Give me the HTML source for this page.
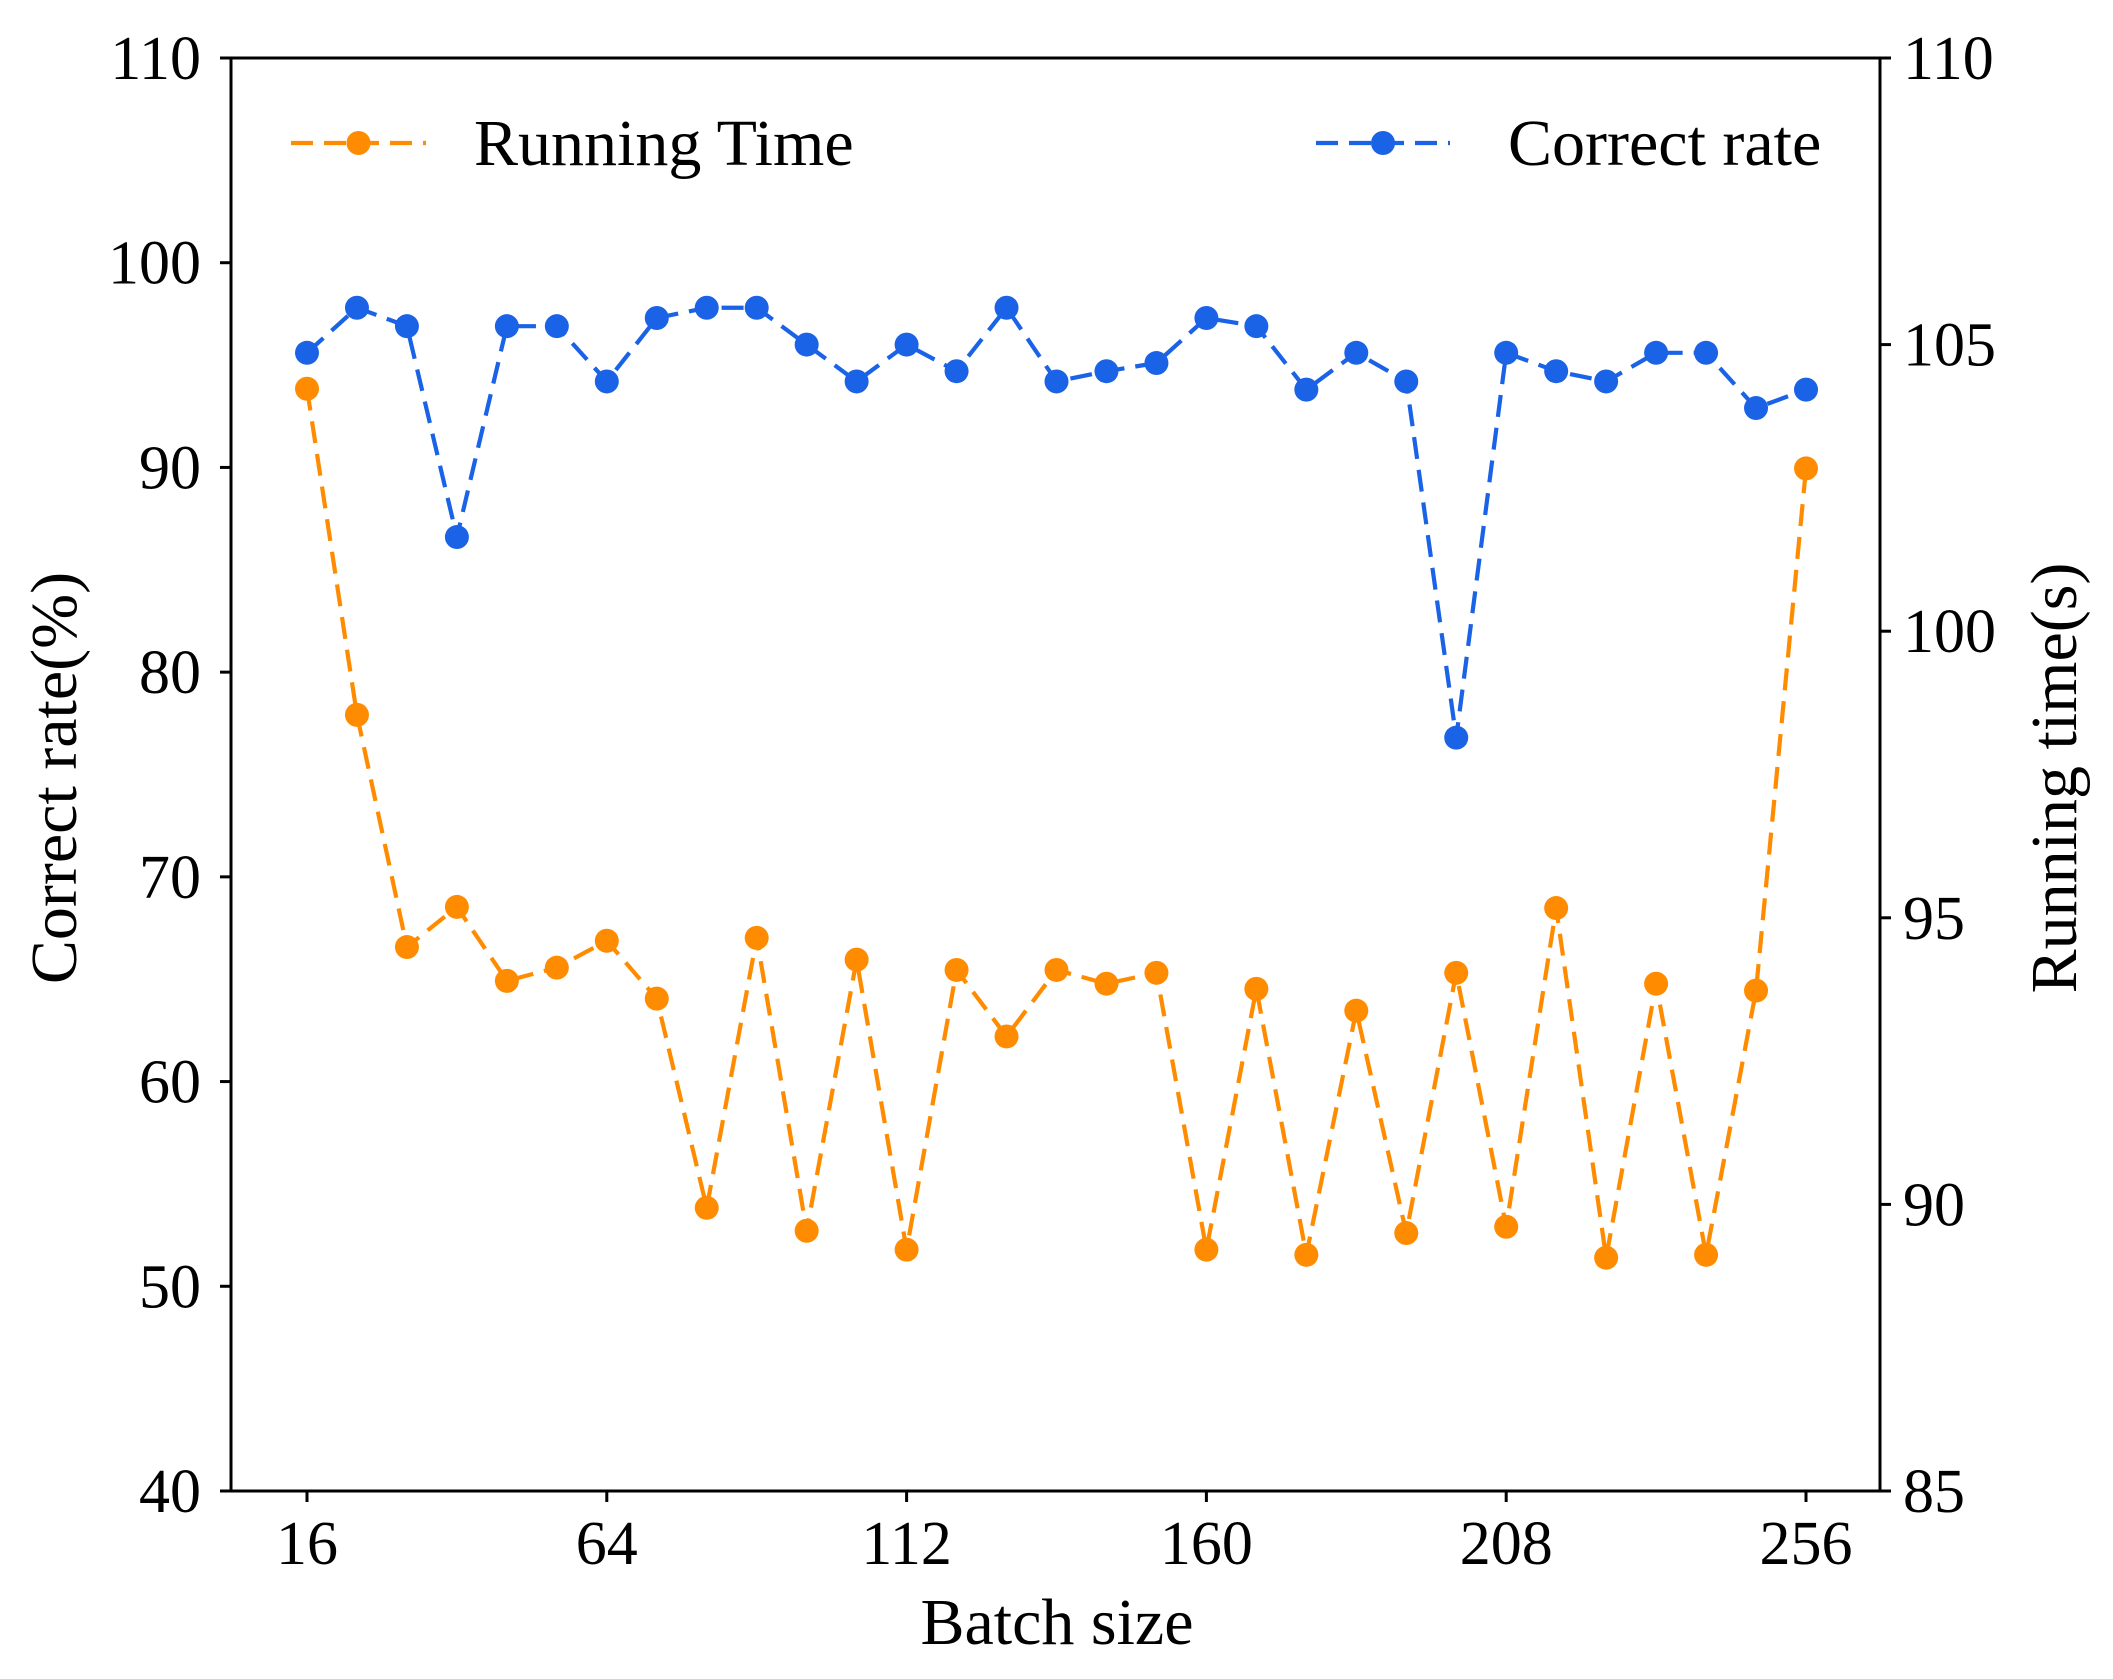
<!DOCTYPE html>
<html><head><meta charset="utf-8"><style>
html,body{margin:0;padding:0;background:#fff;}
svg{display:block;font-family:"Liberation Serif",serif;}
</style></head><body>
<svg id="chart" width="2113" height="1679" viewBox="0 0 2113 1679"></svg>
<script>
const batchSizes=[16,24,32,40,48,56,64,72,80,88,96,104,112,120,128,136,144,152,160,168,176,184,192,200,208,216,224,232,240,248,256];
const correctRate=[95.6,97.8,96.9,86.6,96.9,96.9,94.2,97.3,97.8,97.8,96.0,94.2,96.0,94.7,97.8,94.2,94.7,95.1,97.3,96.9,93.8,95.6,94.2,76.8,95.6,94.7,94.2,95.6,95.6,92.9,93.8];
const runningTime=[104.23,98.54,94.49,95.19,93.90,94.13,94.60,93.59,89.94,94.65,89.54,94.27,89.21,94.09,92.93,94.09,93.85,94.04,89.21,93.76,89.12,93.38,89.50,94.04,89.61,95.17,89.07,93.85,89.12,93.73,102.84];
const xTicks=[16,64,112,160,208,256];
const leftTicks=[40,50,60,70,80,90,100,110];
const rightTicks=[85,90,95,100,105,110];

const svg=document.getElementById('chart');
const NS='http://www.w3.org/2000/svg';
const L=231,R=1880,T=58,B=1491;
const X0=307,X1=1806;
function xs(v){return X0+(v-16)/(256-16)*(X1-X0);}
function yl(v){return B-(v-40)/70*(B-T);}
function yr(v){return B-(v-85)/25*(B-T);}
function mk(tag,attrs,parent){const e=document.createElementNS(NS,tag);for(const k in attrs)e.setAttribute(k,attrs[k]);(parent||svg).appendChild(e);return e;}

const frame=mk('rect',{x:L,y:T,width:R-L,height:B-T,fill:'none',stroke:'#000','stroke-width':3});



xTicks.forEach(v=>{
  const g=mk('g',{});
  
  
  mk('line',{x1:xs(v),x2:xs(v),y1:B,y2:B+11,stroke:'#000','stroke-width':3},g);
  const t=mk('text',{x:xs(v),y:1564,'font-size':62,'text-anchor':'middle',fill:'#000'},g);t.textContent=v;
});
leftTicks.forEach(v=>{
  const g=mk('g',{});
  
  
  mk('line',{x1:L-11,x2:L,y1:yl(v),y2:yl(v),stroke:'#000','stroke-width':3},g);
  const t=mk('text',{x:201,y:yl(v)+21,'font-size':62,'text-anchor':'end',fill:'#000'},g);t.textContent=v;
});
rightTicks.forEach(v=>{
  const g=mk('g',{});
  
  
  mk('line',{x1:R,x2:R+11,y1:yr(v),y2:yr(v),stroke:'#000','stroke-width':3},g);
  const t=mk('text',{x:1903,y:yr(v)+21,'font-size':62,'text-anchor':'start',fill:'#000'},g);t.textContent=v;
});

function series(vals,yf,color,name){
  const g=mk('g',{});
  
  
  const pts=vals.map((v,i)=>xs(batchSizes[i])+','+yf(v)).join(' ');
  mk('polyline',{points:pts,fill:'none',stroke:color,'stroke-width':4.2,'stroke-dasharray':'22,11'},g);
  vals.forEach((v,i)=>{
    const c=mk('circle',{cx:xs(batchSizes[i]),cy:yf(v),r:12,fill:color},g);
    
    
  });
}
series(correctRate,yl,'#1a62e6','correct-rate-series');
series(runningTime,yr,'#ff8c00','running-time-series');

function legend(x1,x2,y,color,label,tx,name){
  const g=mk('g',{});
  
  
  mk('line',{x1:x1,x2:x2,y1:y,y2:y,stroke:color,'stroke-width':4.2,'stroke-dasharray':'22,11'},g);
  mk('circle',{cx:(x1+x2)/2,cy:y,r:12,fill:color},g);
  const t=mk('text',{x:tx,y:y+22,'font-size':66,fill:'#000'},g);t.textContent=label;
}
legend(291,426,143,'#ff8c00','Running Time',474,'legend-running-time');
legend(1316,1450,143,'#1a62e6','Correct rate',1508,'legend-correct-rate');

const xl=mk('text',{x:1057,y:1644,'font-size':66,'text-anchor':'middle',fill:'#000'});xl.textContent='Batch size';


const ylt=mk('text',{x:0,y:0,'font-size':66,'text-anchor':'middle',fill:'#000',transform:'translate(76,778) rotate(-90)'});ylt.textContent='Correct rate(%)';


const yrt=mk('text',{x:0,y:0,'font-size':66,'text-anchor':'middle',fill:'#000',transform:'translate(2076,778) rotate(-90)'});yrt.textContent='Running time(s)';


</script>
</body></html>
